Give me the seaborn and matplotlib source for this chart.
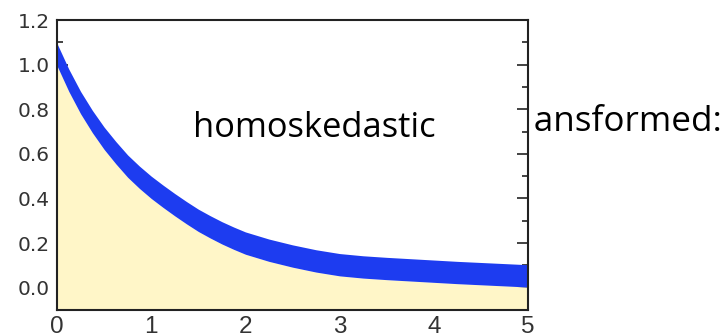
import matplotlib
matplotlib.use("Agg")
import matplotlib.pyplot as plt
from matplotlib.ticker import MultipleLocator
from matplotlib.transforms import Bbox, TransformedBbox
import pandas as pd
import seaborn as sns

# Decaying signal: centre of the noisy band sampled along x, and its constant half-width
x_pos = [0.0, 0.125, 0.25, 0.375, 0.5, 0.625, 0.75, 0.875, 1.0, 1.125, 1.25,
         1.375, 1.5, 1.625, 1.75, 1.875, 2.0, 2.25, 2.5, 2.75, 3.0, 3.25, 3.5,
         3.75, 4.0, 4.25, 4.5, 4.75, 5.0]
center = [1.045, 0.93, 0.83, 0.745, 0.67, 0.605, 0.545, 0.495, 0.45, 0.41,
          0.372, 0.336, 0.302, 0.273, 0.246, 0.222, 0.20, 0.168, 0.142, 0.12,
          0.103, 0.093, 0.086, 0.08, 0.074, 0.068, 0.063, 0.058, 0.053]
band_half = 0.05

x_ticks = [0, 1, 2, 3, 4, 5]
x_tick_labels = ["0", "1", "2", "3", "4", "5"]
y_ticks = [0.0, 0.2, 0.4, 0.6, 0.8, 1.0, 1.2]
y_tick_labels = ["0.0", "0.2", "0.4", "0.6", "0.8", "1.0", "1.2"]

caption = "homoskedastic"
side_text = "transformed:"

BLUE = "#1d3cf0"
CREAM = "#fff6c8"
INK = "#222222"

sns.set_theme(style="ticks")
plt.rcParams["font.family"] = ["Liberation Sans", "DejaVu Sans"]

W, H = 727, 335
fig = plt.figure(figsize=(W / 100, H / 100), dpi=100)
fig.patch.set_facecolor("white")
ax = fig.add_axes([57 / W, 1 - 310 / H, (528 - 57) / W, (310 - 20) / H])
ax.set_facecolor("white")

lower = [c - band_half for c in center]
upper = [c + band_half for c in center]
band = pd.DataFrame({"x": x_pos + x_pos, "y": lower + upper})

# cream area under the curve
ax.fill_between(x_pos, -0.1, lower, color=CREAM, linewidth=0, zorder=1)

# blue band spanning the lower/upper envelope
sns.lineplot(data=band, x="x", y="y", estimator="mean", errorbar=("pi", 100),
             color=BLUE, linewidth=0, ax=ax,
             err_kws={"alpha": 1, "linewidth": 0, "zorder": 2})

ax.set_xlim(0, 5)
ax.set_ylim(-0.1, 1.2)
ax.set_xticks(x_ticks, x_tick_labels)
ax.set_yticks(y_ticks, y_tick_labels)
ax.xaxis.set_minor_locator(MultipleLocator(0.5))
ax.yaxis.set_minor_locator(MultipleLocator(0.1))
ax.set_xlabel("")
ax.set_ylabel("")

for side in ["left", "right", "top", "bottom"]:
    ax.spines[side].set_visible(True)
    ax.spines[side].set_linewidth(1.5)
    ax.spines[side].set_color(INK)
    ax.spines[side].set_zorder(5)

ax.tick_params(axis="both", which="both", direction="in", colors=INK,
               top=False, right=True, labelright=False, width=1.2)
ax.tick_params(axis="y", which="major", length=8, pad=5, labelsize=14.5,
               labelcolor="#333333")
ax.tick_params(axis="y", which="minor", length=4.3)
ax.tick_params(axis="x", which="major", length=7.7, pad=4.5, labelsize=17.5,
               labelcolor="#333333")
ax.tick_params(axis="x", which="minor", length=3.4)
for lab in ax.get_yticklabels():
    lab.set_fontfamily(["DejaVu Sans"])

fig.text(193 / W, 1 - 137 / H, caption, fontfamily="Open Sans", fontsize=24.8,
         ha="left", va="baseline", color="black", zorder=5)
side = fig.text(722 / W, 1 - 131 / H, side_text, fontfamily="Open Sans",
                fontsize=25.2, ha="right", va="baseline", color="black",
                zorder=-1)
side.set_clip_box(TransformedBbox(Bbox.from_extents(534.5 / W, 0, 1, 1),
                                  fig.transFigure))
side.set_clip_on(True)

fig.savefig("out.png", dpi=100, facecolor="white")
